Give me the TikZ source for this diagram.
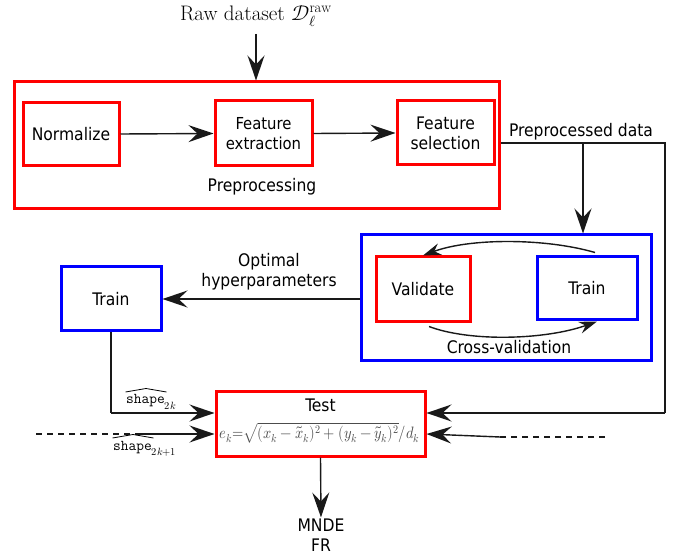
\documentclass[tikz,border=0pt]{standalone}
\usepackage{fontspec}
\setmainfont{DejaVu Sans Condensed}
\usepackage{unicode-math}
\setmathfont{Latin Modern Math}
\setmathrm{Latin Modern Roman}
\newfontfamily\serifrm{Latin Modern Roman}
\usetikzlibrary{arrows.meta,positioning,calc}
\definecolor{boxred}{RGB}{255,0,0}
\definecolor{boxblue}{RGB}{0,0,255}
\tikzset{
  blk/.style={draw, line width=3pt, minimum width=#1, inner sep=0pt, align=center,
              font=\fontsize{17.3}{20}\selectfont},
  redblk/.style={blk=#1, draw=boxred},
  blueblk/.style={blk=#1, draw=boxblue},
  lbl/.style={font=\fontsize{17.3}{20}\selectfont, align=center, inner sep=1pt},
  conn/.style={line width=1.4pt, draw=black!90},
  arr/.style={conn, -{Stealth[length=25pt,width=17pt,inset=9pt]}},
  smallarr/.style={conn, -{Stealth[length=18pt,width=12pt,inset=6pt]}},
  hatline/.style={line width=0.8pt, line join=round},
  shapelbl/.style={inner sep=0pt, font=\fontsize{15}{18}\selectfont},
}
\begin{document}
\begin{tikzpicture}[x=1pt,y=-1pt]
\useasboundingbox (0,0) rectangle (689,556);

% input label
\node[inner sep=1pt, font=\fontsize{21}{24}\selectfont\serifrm] (raw) at (256,16)
  {Raw dataset $\mathcal{D}_{\ell}^{\mathrm{raw}}$};

% preprocessing stage
\node[redblk=485pt, minimum height=127pt] (pre) at (256.5,145.5) {};
\node[redblk=96pt, minimum height=63pt] (norm) at (71,134) {Normalize};
\node[redblk=97pt, minimum height=65pt, font=\fontsize{16.5}{20}\selectfont] (fext) at (263.5,133.5) {Feature\\extraction};
\node[redblk=97pt, minimum height=64pt] (fsel) at (445.5,133) {Feature\\selection};
\node[lbl] (prelbl) at (262,187) {Preprocessing};

% cross-validation stage
\node[blueblk=290pt, minimum height=126pt] (cv) at (506,298) {};
\node[redblk=94pt, minimum height=65pt] (val) at (423,289.5) {Validate};
\node[blueblk=100pt, minimum height=63pt] (trin) at (587,288.5) {Train};
\node[lbl] (cvlbl) at (509,347) {Cross-validation};

% final training and test
\node[blueblk=100pt, minimum height=64pt] (trout) at (111,299) {Train};
\node[lbl] (optlbl) at (269,272) {Optimal\\hyperparameters};
\node[redblk=209pt, minimum height=64pt] (test) at (320.5,424) {};
\node[lbl] (testlbl) at (320.5,405) {Test};
\node[inner sep=0pt, text=black!70, font=\fontsize{16.5}{18}\selectfont] (err) at (319.5,433)
  {\resizebox{200pt}{\height}{$e_k{=}\sqrt{(x_k-\tilde{x}_k)^2+(y_k-\tilde{y}_k)^2}/d_k$}};
\node[lbl] (out) at (321,535) {MNDE\\FR};

% routing points
\coordinate (split) at (583,143);
\coordinate (corner) at (665,143);
\coordinate (tin1) at ($(test.west)+(0,-11)$);
\coordinate (tin2) at ($(test.west)+(0,10)$);
\coordinate (tin3) at ($(test.east)+(0,-11)$);
\coordinate (tin4) at ($(test.east)+(0,10)$);
\coordinate (dashL0) at (36,434);
\coordinate (dashL1) at (135,434);
\coordinate (dashR0) at (605,437);
\coordinate (dashR1) at (500,437);

% connectors
\draw[arr] (raw.south) ++(0,6) -- (raw.south |- pre.north);
\draw[arr] (norm.east) -- (fext.west);
\draw[arr] (fext.east) -- (fsel.west);
\draw[conn] (pre.east |- split) -- (corner) -- (corner |- tin3);
\draw[arr] (corner |- tin3) -- (tin3);
\draw[arr] (split) -- (split |- cv.north);
\node[lbl, anchor=south] (ppd) at (581,141) {Preprocessed data};

\draw[arr] (cv.west |- trout) -- (trout.east);
\draw[conn] (trout.south) -- (trout.south |- tin1);
\draw[arr] (trout.south |- tin1) -- (tin1);
\draw[conn, dash pattern=on 6pt off 5pt] (dashL0) -- (dashL1);
\draw[arr] (dashL1) -- (tin2);
\draw[conn, dash pattern=on 6pt off 5pt] (dashR0) -- (dashR1);
\draw[arr] (dashR1) -- (tin4);
\draw[arr] (test.south) -- (out.north);

% cross-validation loop
\draw[smallarr] ($(trin.north)+(8,-3)$) .. controls (545,238) and (470,238) .. (val.north);
\draw[smallarr] ($(val.south)+(6,3)$) .. controls (470,342) and (545,340) .. ($(trin.south)+(10,0)$);

% estimated shape labels, each with a wide hat over the word
\node[shapelbl, anchor=base west] (s1) at (126,404) {$\mathtt{shape}_{2k}$};
\draw[hatline] ($(s1.base west)+(-0.5,-12)$) -- ($(s1.base west)+(20,-15.5)$) -- ($(s1.base west)+(40.5,-12)$);
\node[shapelbl, anchor=base west] (s2) at (113,450) {$\mathtt{shape}_{2k+1}$};
\draw[hatline] ($(s2.base west)+(-0.5,-12)$) -- ($(s2.base west)+(20,-15.5)$) -- ($(s2.base west)+(40.5,-12)$);
\end{tikzpicture}
\end{document}
